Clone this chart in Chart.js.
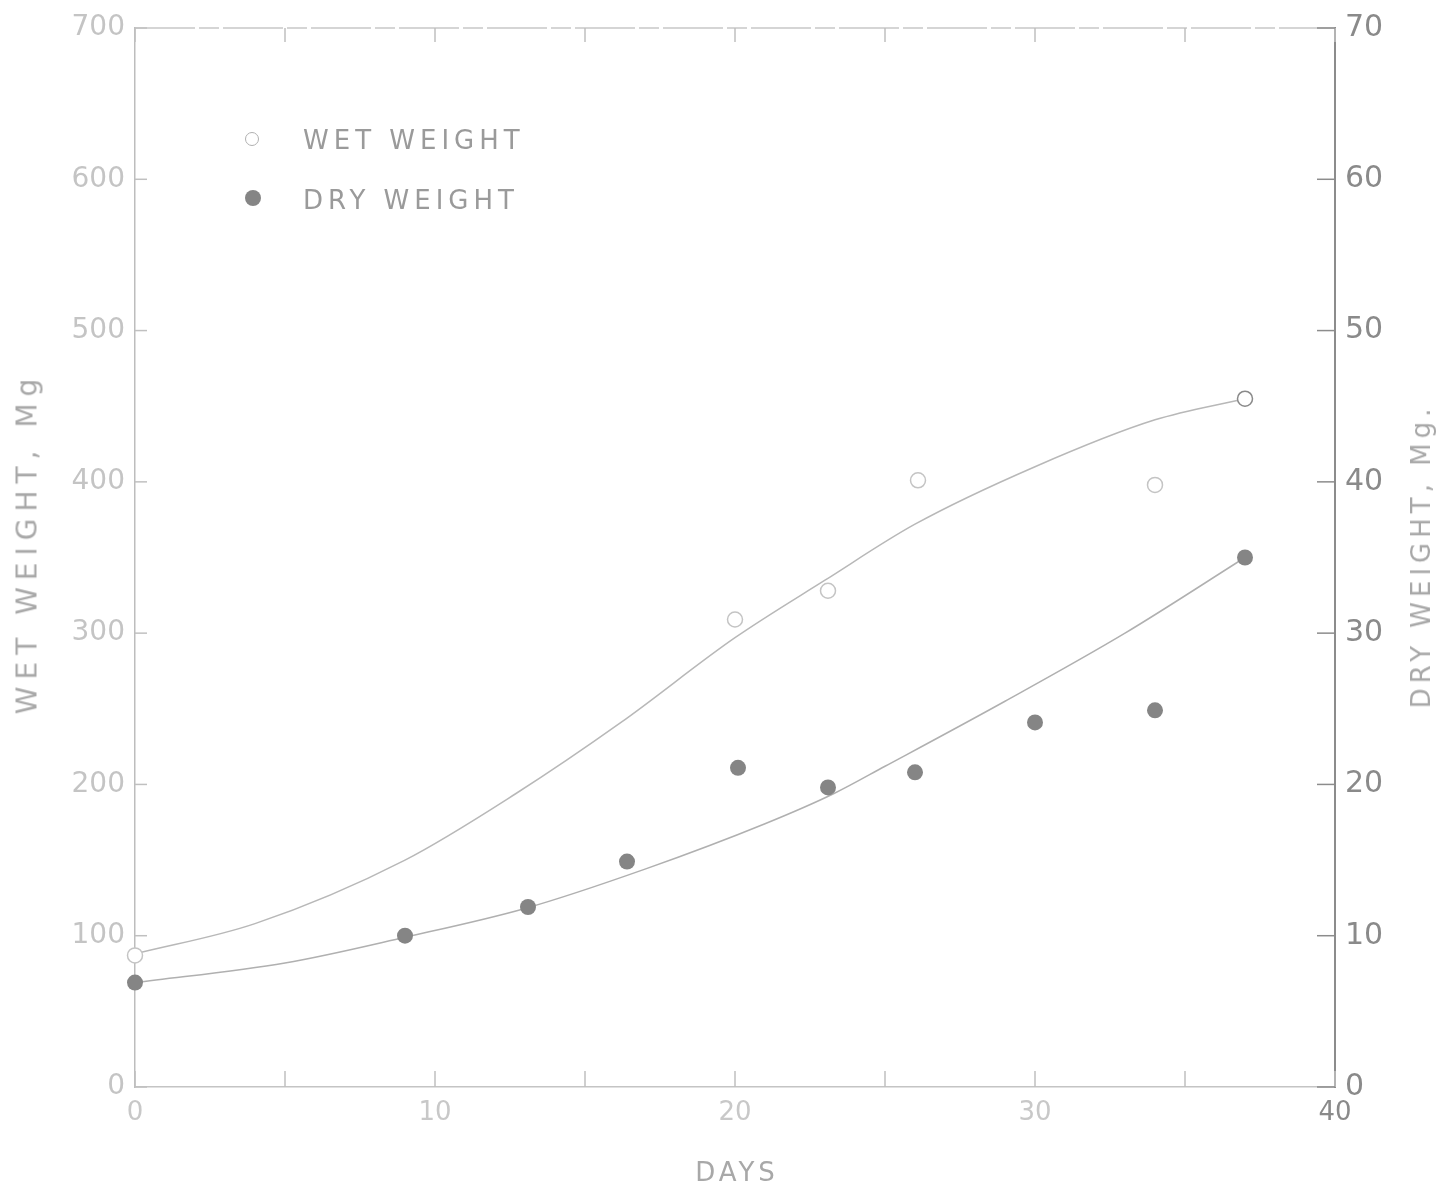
<!DOCTYPE html>
<html>
<head>
<meta charset="utf-8">
<script src="https://cdn.jsdelivr.net/npm/chart.js@4/dist/chart.umd.min.js"></script>
<style>
  html, body { margin: 0; padding: 0; background: #fff; }
  #wrap { position: relative; width: 1442px; height: 1191px; font-family: "DejaVu Sans", sans-serif; }
  #chart { position: absolute; left: 0; top: 0; }
  .lbl { position: absolute; white-space: nowrap; color: #a8a8a8; }
  .legend-row { position: absolute; left: 245px; font-size: 26px; letter-spacing: 5px; color: #9a9a9a; }
  .mark { display: inline-block; border-radius: 50%; margin-right: 44px; vertical-align: 3px; }
</style>
</head>
<body>
<div id="wrap">
  <canvas id="chart" width="1442" height="1191"></canvas>
  <div class="legend-row" style="top:125px;"><span class="mark" style="border:1.5px solid #b0b0b0;width:12px;height:12px;"></span>WET WEIGHT</div>
  <div class="legend-row" style="top:185px;"><span class="mark" style="background:#858585;width:16px;height:16px;margin-right:42px;"></span>DRY WEIGHT</div>
  <div class="lbl" style="left:27px;top:543px;font-size:28px;letter-spacing:7px;transform:translate(-50%,-50%) rotate(-90deg);">WET WEIGHT, Mg</div>
  <div class="lbl" style="left:1421px;top:556px;font-size:26px;letter-spacing:5px;transform:translate(-50%,-50%) rotate(-90deg);">DRY WEIGHT, Mg.</div>
  <div class="lbl" style="left:737px;top:1172px;font-size:26px;letter-spacing:4px;transform:translate(-50%,-50%);">DAYS</div>
</div>
<script>
// measured points
const wetDays = [0, 20, 23.1, 26.1, 34, 37];
const wetValues = [87, 309, 328, 401, 398, 455];
const dryDays = [0, 9, 13.1, 16.4, 20.1, 23.1, 26, 30, 34, 37];
const dryValues = [6.9, 10.0, 11.9, 14.9, 21.1, 19.8, 20.8, 24.1, 24.9, 35.0];

// fitted curves
const wetCurveDays = [0, 4, 9, 12.7, 16.2, 20, 23, 26, 30, 34, 37];
const wetCurveValues = [88, 108, 150, 194, 241, 297, 335, 372, 410, 441, 455];
const dryCurveDays = [0, 5, 9, 13, 17, 21, 23.3, 25, 29, 33, 37];
const dryCurveValues = [6.9, 8.2, 9.9, 11.8, 14.4, 17.4, 19.4, 21.2, 25.5, 30.0, 35.0];

// axes
const dayTickLabels = ['0', '10', '20', '30', '40'];

function pts(xs, ys) {
    return xs.map((x, i) => ({ x: x, y: ys[i] }));
}

// inward tick marks and the top frame line
const frameTicks = {
    id: 'frameTicks',
    afterDraw(chart) {
        const ctx = chart.ctx;
        const a = chart.chartArea;
        const xs = chart.scales.x, yl = chart.scales.y, yr = chart.scales.y1;
        ctx.save();
        ctx.lineWidth = 1.5;
        // top line
        ctx.strokeStyle = '#c8c8c8';
        ctx.setLineDash([60, 4, 20, 4]);
        ctx.beginPath();
        ctx.moveTo(a.left, a.top);
        ctx.lineTo(a.right, a.top);
        ctx.stroke();
        ctx.setLineDash([]);
        xs.ticks.forEach(t => {
            const px = xs.getPixelForValue(t.value);
            ctx.strokeStyle = '#c0c0c0';
            ctx.beginPath();
            ctx.moveTo(px, a.bottom);
            ctx.lineTo(px, a.bottom - 16);
            ctx.moveTo(px, a.top);
            ctx.lineTo(px, a.top + 14);
            ctx.stroke();
        });
        yl.ticks.forEach(t => {
            const py = yl.getPixelForValue(t.value);
            ctx.strokeStyle = '#c0c0c0';
            ctx.beginPath();
            ctx.moveTo(a.left, py);
            ctx.lineTo(a.left + 12, py);
            ctx.stroke();
        });
        yr.ticks.forEach(t => {
            const py = yr.getPixelForValue(t.value);
            ctx.strokeStyle = '#8c8c8c';
            ctx.beginPath();
            ctx.moveTo(a.right, py);
            ctx.lineTo(a.right - 18, py);
            ctx.stroke();
        });
        ctx.restore();
    }
};

new Chart(document.getElementById('chart').getContext('2d'), {
    type: 'scatter',
    data: {
        datasets: [
            {
                label: 'WET WEIGHT',
                data: pts(wetDays, wetValues),
                yAxisID: 'y',
                order: 0,
                pointRadius: 7.5,
                pointBorderWidth: 1.5,
                pointBackgroundColor: '#ffffff',
                pointBorderColor: ctx => ctx.dataIndex === wetDays.length - 1 ? '#8a8a8a' : '#c4c4c4',
                clip: false
            },
            {
                label: 'DRY WEIGHT',
                data: pts(dryDays, dryValues),
                yAxisID: 'y1',
                order: 0,
                pointRadius: 8,
                pointBorderWidth: 0,
                pointBackgroundColor: '#858585',
                clip: false
            },
            {
                label: 'wet fit',
                data: pts(wetCurveDays, wetCurveValues),
                yAxisID: 'y',
                order: 1,
                showLine: true,
                pointRadius: 0,
                borderColor: '#b8b8b8',
                borderWidth: 1.5,
                cubicInterpolationMode: 'monotone'
            },
            {
                label: 'dry fit',
                data: pts(dryCurveDays, dryCurveValues),
                yAxisID: 'y1',
                order: 1,
                showLine: true,
                pointRadius: 0,
                borderColor: '#b0b0b0',
                borderWidth: 1.5,
                cubicInterpolationMode: 'monotone'
            }
        ]
    },
    options: {
        responsive: false,
        animation: false,
        layout: { padding: { top: 28, left: 0, right: 0, bottom: 0 } },
        plugins: {
            legend: { display: false },
            tooltip: { enabled: false }
        },
        scales: {
            x: {
                type: 'linear',
                min: 0,
                max: 40,
                afterFit: s => { s.height = 104; },
                border: { color: '#c4c4c4', width: 1.5 },
                grid: { drawOnChartArea: false, drawTicks: false },
                ticks: {
                    stepSize: 5,
                    padding: 11,
                    color: v => (v.tick && v.tick.value === 40) ? '#8a8a8a' : '#c8c8c8',
                    font: { family: 'DejaVu Sans', size: 26 },
                    callback: v => dayTickLabels.includes(String(v)) ? String(v) : ''
                }
            },
            y: {
                position: 'left',
                min: 0,
                max: 700,
                afterFit: s => { s.width = 135; },
                border: { color: '#bdbdbd', width: 1.5 },
                grid: { drawOnChartArea: false, drawTicks: false },
                ticks: {
                    stepSize: 100,
                    padding: 10,
                    color: '#c4c4c4',
                    font: { family: 'DejaVu Sans', size: 28 }
                }
            },
            y1: {
                position: 'right',
                min: 0,
                max: 70,
                afterFit: s => { s.width = 107; },
                border: { color: '#8c8c8c', width: 2 },
                grid: { drawOnChartArea: false, drawTicks: false },
                ticks: {
                    stepSize: 10,
                    padding: 10,
                    color: '#8a8a8a',
                    font: { family: 'DejaVu Sans', size: 30 }
                }
            }
        }
    },
    plugins: [frameTicks]
});
</script>
</body>
</html>
